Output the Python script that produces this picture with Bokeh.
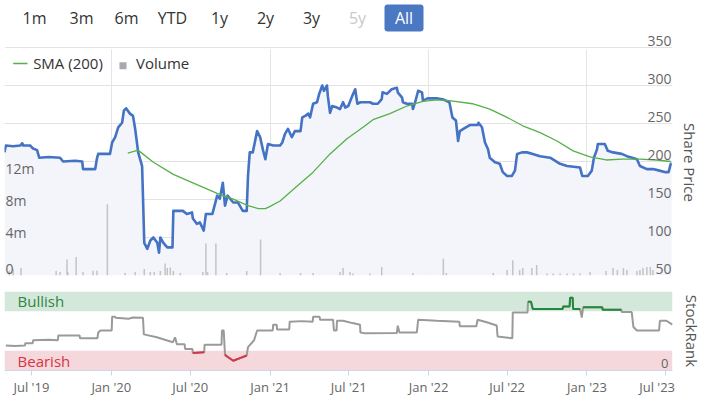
import numpy as np
import pandas as pd
from bokeh.plotting import figure
from bokeh.layouts import column
from bokeh.models import Range1d, LinearAxis, FixedTicker, Grid, BoxAnnotation, Label
from bokeh.core.properties import value
from bokeh.embed import file_html
from bokeh.resources import INLINE

FONT = "Open Sans"
TICK_COLOR = "#666666"

# ---------------- data ----------------
range_buttons = ["1m", "3m", "6m", "YTD", "1y", "2y", "3y", "5y", "All"]
active_button = "All"
disabled_button = "5y"

x_start = "2019-04-30"
x_end = "2023-07-17"

price_dates = [
    "2019-04-30", "2019-05-03", "2019-05-20", "2019-06-05", "2019-06-10", "2019-06-12", "2019-06-28",
    "2019-07-05", "2019-07-14", "2019-07-19", "2019-08-10", "2019-09-05", "2019-09-12", "2019-10-10",
    "2019-10-26", "2019-10-28", "2019-11-25", "2019-11-29", "2019-12-02", "2019-12-29", "2020-01-03",
    "2020-01-10", "2020-01-17", "2020-01-26", "2020-01-30", "2020-02-04", "2020-02-13", "2020-02-20",
    "2020-02-25", "2020-03-03", "2020-03-12", "2020-03-14", "2020-03-17", "2020-03-24", "2020-03-31",
    "2020-04-07", "2020-04-16", "2020-04-20", "2020-04-23", "2020-04-30", "2020-05-09", "2020-05-21",
    "2020-05-23", "2020-06-14", "2020-06-23", "2020-07-05", "2020-07-07", "2020-07-16", "2020-07-23",
    "2020-08-01", "2020-08-06", "2020-08-21", "2020-09-01", "2020-09-07", "2020-09-14", "2020-09-19",
    "2020-09-25", "2020-10-08", "2020-10-19", "2020-10-30", "2020-11-08", "2020-11-11", "2020-11-15",
    "2020-11-22", "2020-12-02", "2020-12-09", "2020-12-16", "2020-12-21", "2020-12-27", "2021-01-08",
    "2021-01-24", "2021-01-29", "2021-02-04", "2021-02-11", "2021-02-20", "2021-02-27", "2021-03-12",
    "2021-03-16", "2021-03-23", "2021-03-30", "2021-04-03", "2021-04-10", "2021-04-19", "2021-04-24",
    "2021-05-01", "2021-05-05", "2021-05-12", "2021-05-14", "2021-05-19", "2021-05-24", "2021-06-04",
    "2021-06-11", "2021-06-18", "2021-06-23", "2021-06-30", "2021-07-09", "2021-07-16", "2021-07-21",
    "2021-07-28", "2021-08-19", "2021-08-26", "2021-09-06", "2021-09-15", "2021-09-17", "2021-09-27",
    "2021-10-08", "2021-10-20", "2021-10-22", "2021-11-01", "2021-11-03", "2021-11-12", "2021-11-24",
    "2021-11-26", "2021-12-01", "2021-12-08", "2021-12-17", "2021-12-19", "2021-12-30", "2022-01-22",
    "2022-02-02", "2022-02-18", "2022-02-25", "2022-03-05", "2022-03-10", "2022-03-14", "2022-03-25",
    "2022-04-06", "2022-04-24", "2022-04-26", "2022-05-04", "2022-05-11", "2022-05-18", "2022-05-22",
    "2022-06-03", "2022-06-14", "2022-06-21", "2022-07-01", "2022-07-12", "2022-07-19", "2022-07-24",
    "2022-08-04", "2022-08-16", "2022-08-29", "2022-09-15", "2022-10-08", "2022-10-31", "2022-11-16",
    "2022-12-16", "2022-12-21", "2023-01-03", "2023-01-12", "2023-01-17", "2023-01-24", "2023-01-26",
    "2023-02-11", "2023-02-18", "2023-03-02", "2023-03-22", "2023-04-03", "2023-04-15", "2023-04-26",
    "2023-05-03", "2023-05-19", "2023-06-02", "2023-06-17", "2023-07-01", "2023-07-08", "2023-07-13",
    "2023-07-15",
]
price_values = [
    212, 221, 220, 221, 224, 221, 221,
    217, 215, 205, 206, 205, 200, 201,
    200, 190, 190, 204, 210, 210, 225,
    232, 245, 251, 267, 270, 263, 260,
    243, 212, 194, 155, 93, 85, 96,
    100, 93, 80, 100, 93, 87, 87,
    135, 135, 131, 133, 125, 118, 120,
    109, 131, 131, 155, 151, 172, 142,
    155, 146, 146, 135, 135, 181, 212,
    212, 240, 232, 214, 203, 223, 221,
    221, 225, 236, 243, 232, 240, 240,
    258, 260, 263, 258, 276, 278, 289,
    300, 293, 300, 286, 264, 273, 271,
    269, 278, 271, 273, 286, 295, 276,
    278, 278, 276, 276, 282, 291, 289,
    295, 297, 291, 284, 278, 276, 276,
    269, 278, 293, 291, 280, 283, 283,
    282, 278, 258, 254, 227, 240, 244,
    248, 248, 251, 245, 225, 216, 205,
    199, 197, 186, 181, 181, 188, 210,
    212, 212, 210, 207, 205, 197, 194,
    192, 181, 181, 188, 205, 216, 223,
    223, 214, 212, 210, 207, 205, 203,
    194, 190, 190, 188, 186, 186, 197,
    197,
]

sma_dates = [
    "2020-02-08", "2020-03-03", "2020-03-07", "2020-04-07", "2020-05-23", "2020-07-07", "2020-09-01",
    "2020-10-08", "2020-11-11", "2020-12-05", "2020-12-21", "2021-01-01", "2021-01-24", "2021-03-05",
    "2021-04-10", "2021-05-19", "2021-06-27", "2021-08-03", "2021-08-26", "2021-10-04", "2021-11-12",
    "2021-12-19", "2022-01-20", "2022-02-18", "2022-04-12", "2022-05-22", "2022-07-01", "2022-08-06",
    "2022-09-15", "2022-10-24", "2022-11-30", "2023-01-08", "2023-02-14", "2023-03-23", "2023-05-03",
    "2023-06-10", "2023-07-13",
]
sma_values = [
    211, 215, 213, 199, 183, 172, 158,
    150.5, 142, 138, 138, 141, 148, 168,
    186, 210, 230, 245, 255, 263, 273,
    279, 281, 280, 276, 269, 258, 247,
    238, 227, 214, 206, 202, 203, 203,
    202, 200,
]

volume_dates = [
    "2019-05-11", "2019-05-20", "2019-06-07", "2019-08-27", "2019-09-05", "2019-09-21", "2019-09-23",
    "2019-10-12", "2019-10-28", "2019-11-20", "2019-11-29", "2019-12-23", "2020-02-02", "2020-02-25",
    "2020-03-17", "2020-03-31", "2020-04-09", "2020-04-23", "2020-05-04", "2020-05-09", "2020-05-16",
    "2020-05-23", "2020-06-08", "2020-07-30", "2020-08-06", "2020-08-10", "2020-08-29", "2020-09-23",
    "2020-11-08", "2020-12-10", "2021-01-24", "2021-03-12", "2021-04-10", "2021-06-11", "2021-06-18",
    "2021-07-04", "2021-07-11", "2021-08-19", "2021-09-15", "2021-11-26", "2022-02-04", "2022-02-11",
    "2022-05-30", "2022-07-01", "2022-07-14", "2022-07-30", "2022-08-06", "2022-08-27", "2022-09-07",
    "2022-10-01", "2022-10-15", "2022-10-31", "2022-11-16", "2022-12-01", "2022-12-16", "2023-01-08",
    "2023-02-14", "2023-03-02", "2023-03-12", "2023-03-26", "2023-04-03", "2023-04-26", "2023-05-03",
    "2023-05-10", "2023-05-19", "2023-05-27", "2023-06-02",
]
volume_millions = [
    0.6, 0.8, 0.95, 0.55, 0.45, 2.0, 0.45,
    2.3, 0.45, 0.6, 0.6, 8.9, 0.3, 0.45,
    0.8, 0.45, 0.45, 0.55, 1.5, 0.95, 1.0,
    0.55, 0.3, 0.45, 4.0, 0.45, 4.0, 0.3,
    0.55, 4.5, 0.3, 0.3, 0.3, 0.45, 0.95,
    0.45, 0.25, 0.25, 1.05, 0.3, 2.1, 0.3,
    0.3, 0.7, 1.9, 0.7, 0.95, 0.95, 1.3,
    0.25, 0.25, 0.25, 0.25, 0.25, 0.25, 0.45,
    0.55, 0.95, 0.7, 0.95, 0.7, 0.55, 0.7,
    0.95, 1.05, 1.05, 0.7,
]

rank_dates = [
    "2019-05-03", "2019-05-25", "2019-06-16", "2019-06-17", "2019-07-04", "2019-07-05", "2019-08-10",
    "2019-08-31", "2019-09-01", "2019-10-20", "2019-10-21", "2019-11-30", "2019-12-02", "2019-12-07",
    "2020-01-02", "2020-01-03", "2020-01-10", "2020-01-11", "2020-02-10", "2020-02-20", "2020-03-14",
    "2020-03-16", "2020-04-15", "2020-05-22", "2020-05-27", "2020-05-31", "2020-06-18", "2020-06-19",
    "2020-07-06", "2020-07-07", "2020-08-02", "2020-08-03", "2020-09-11", "2020-09-12", "2020-09-16",
    "2020-09-19", "2020-09-23", "2020-10-08", "2020-10-25", "2020-11-08", "2020-11-11", "2020-11-25",
    "2020-12-02", "2021-01-07", "2021-01-08", "2021-01-16", "2021-01-17", "2021-02-14", "2021-02-15",
    "2021-03-15", "2021-04-09", "2021-04-10", "2021-04-25", "2021-04-26", "2021-05-26", "2021-05-28",
    "2021-06-03", "2021-06-04", "2021-06-18", "2021-07-10", "2021-07-27", "2021-07-28", "2021-08-08",
    "2021-10-20", "2021-10-22", "2021-10-26", "2021-12-05", "2021-12-08", "2022-01-20", "2022-03-13",
    "2022-03-14", "2022-04-21", "2022-04-24", "2022-05-15", "2022-06-07", "2022-06-09", "2022-07-13",
    "2022-07-14", "2022-08-17", "2022-08-18", "2022-08-25", "2022-08-29", "2022-11-06", "2022-11-07",
    "2022-11-22", "2022-11-23", "2022-11-29", "2022-11-30", "2022-12-16", "2022-12-20", "2022-12-23",
    "2023-02-05", "2023-02-06", "2023-03-21", "2023-03-22", "2023-04-14", "2023-04-18", "2023-04-26",
    "2023-06-16", "2023-06-18", "2023-07-03", "2023-07-17",
]
rank_values = [
    31.5, 31, 31.5, 34.6, 34.6, 38.3, 39,
    38.3, 44.4, 44.4, 40.7, 40.7, 48.1, 50.6,
    50.6, 67.9, 67.9, 66.7, 65.5, 67, 66.7,
    45.7, 42, 35.8, 42, 33.3, 33.3, 27.2,
    27.2, 22, 23, 32.5, 32.5, 50.6, 50.6,
    20, 18, 12.3, 16, 19, 29.6, 38.3,
    50.6, 50.6, 58, 58, 51.9, 51.9, 61.7,
    62.5, 61.7, 67.9, 67.9, 64.2, 64.2, 50.6,
    50.6, 63, 63, 60, 58, 48.1, 47,
    47.5, 56.8, 48.1, 48.1, 64.2, 63, 61.7,
    56, 56, 64.2, 61, 57, 43, 40.7,
    73.5, 73.5, 87, 87, 78, 78, 81,
    81, 92, 92, 78, 78, 67, 80,
    80, 77, 77, 74, 74, 55, 50.6,
    50.6, 63, 63, 58,
]
bullish_level = 75
bearish_level = 25

price_ticks = [50, 100, 150, 200, 250, 300, 350]
volume_ticks_m = [0, 4, 8, 12]
volume_tick_labels = ["0", "4m", "8m", "12m"]
x_tick_dates = ["2019-07-01", "2020-01-01", "2020-07-01", "2021-01-01", "2021-07-01",
                "2022-01-01", "2022-07-01", "2023-01-01", "2023-07-01"]
x_tick_labels = ["Jul '19", "Jan '20", "Jul '20", "Jan '21", "Jul '21",
                 "Jan '22", "Jul '22", "Jan '23", "Jul '23"]

# ---------------- helpers ----------------
def dt(lst):
    return pd.to_datetime(lst).values

def ms(lst):
    return [float(v) for v in (pd.to_datetime(lst).astype("int64") // 10**6)]

W = 707
LEFT, RIGHT = 4, 35              # frame borders shared by all three rows
BTN_H = 49                       # height of the range-selector row
MAIN_FRAME_H = 226
xs = pd.Timestamp(x_start)
xe = pd.Timestamp(x_end)
x_range = Range1d(start=xs, end=xe)
PX_PER_UNIT = 0.76               # price-axis scale (pixels per currency unit)
P_MIN = 50
P_MAX = P_MIN + MAIN_FRAME_H / PX_PER_UNIT
PX_PER_MILLION = 8.0             # volume-axis scale

# ---------------- range selector row (page-pixel coordinates) ----------------
btn = figure(width=W, height=BTN_H, x_range=Range1d(LEFT, W - RIGHT), y_range=Range1d(BTN_H, 0),
             x_axis_location=None, y_axis_location=None, output_backend="svg",
             toolbar_location=None, min_border_left=LEFT, min_border_right=RIGHT,
             min_border_top=0, min_border_bottom=0)
btn.outline_line_color = None
btn.grid.visible = False
btn_x = [34, 81, 126, 172, 219, 265, 311, 357, 403.5]
btn.add_layout(BoxAnnotation(left=384, right=423, top=4, bottom=31, fill_color="#4a78c2",
                             fill_alpha=1, line_color=None, border_radius=3, level="underlay"))
btn_colors = ["#ffffff" if b == active_button else ("#c8c8c8" if b == disabled_button else "#333333")
              for b in range_buttons]
btn.text(x=btn_x, y=[17.5] * len(range_buttons), text=range_buttons, text_align="center",
         text_baseline="middle", text_color=btn_colors, text_font=value(FONT),
         text_font_size="16px")
# the top gridline (350) and its label sit just above the price frame, so they are drawn here
top_grid_y = BTN_H - (price_ticks[-1] - P_MAX) * PX_PER_UNIT
btn.segment(x0=[LEFT], x1=[W - RIGHT], y0=[top_grid_y], y1=[top_grid_y], line_color="#e3e3e3",
            line_width=1)
btn.text(x=[W - RIGHT - 1], y=[top_grid_y - 2], text=[str(price_ticks[-1])], text_align="right",
         text_baseline="bottom", text_color=TICK_COLOR, text_font=value(FONT),
         text_font_size="14px")

# ---------------- main price panel ----------------
main = figure(width=W, height=MAIN_FRAME_H + 16, x_range=x_range, y_range=Range1d(P_MIN, P_MAX),
              x_axis_type="datetime", x_axis_location=None, y_axis_location=None,
              output_backend="svg", toolbar_location=None,
              min_border_left=LEFT, min_border_right=RIGHT, min_border_top=0, min_border_bottom=16)
main.outline_line_color = None
main.extra_y_ranges = {"vol": Range1d(0, MAIN_FRAME_H / PX_PER_MILLION * 1e6)}

main.varea(x=dt(price_dates), y1=P_MIN, y2=price_values, fill_color="#f3f5fa")
main.add_layout(Grid(dimension=1, ticker=FixedTicker(ticks=price_ticks[:-1]),
                     grid_line_color="#e3e3e3"))

main.vbar(x=dt(volume_dates), top=[v * 1e6 for v in volume_millions], width=3.5 * 86400000,
          y_range_name="vol", fill_color="#c4c4c4", line_color=None)
main.line(dt(price_dates), price_values, line_color="#4472c4", line_width=2.6, line_join="round")
main.line(dt(sma_dates), sma_values, line_color="#56b04a", line_width=1.3)

ax = LinearAxis(ticker=FixedTicker(ticks=[]), axis_label="Share Price", axis_line_color=None,
                major_tick_line_color=None, minor_tick_line_color=None,
                major_label_text_font_size="0px", axis_label_standoff=7,
                axis_label_text_font=FONT, axis_label_text_font_size="15px",
                axis_label_text_font_style="normal", axis_label_text_color="#555555")
main.add_layout(ax, "right")

for t in price_ticks[:-1]:
    main.add_layout(Label(x=xe, y=t, text=str(t), text_align="right", text_baseline="bottom",
                          x_offset=-1, y_offset=2, text_font=FONT, text_font_size="14px",
                          text_color=TICK_COLOR))
for t, lab in zip(volume_ticks_m, volume_tick_labels):
    main.add_layout(Label(x=xs, y=t * 1e6, y_range_name="vol", text=lab, text_align="left",
                          text_baseline="bottom", x_offset=1, y_offset=2, text_font=FONT,
                          text_font_size="14px", text_color=TICK_COLOR))

# legend (drawn by hand)
main.line(x=dt(["2019-05-20", "2019-06-22"]), y=[329, 329], line_color="#56b04a", line_width=1.5)
main.add_layout(Label(x=pd.Timestamp("2019-07-05"), y=329, text="SMA (200)", text_baseline="middle",
                      text_font=FONT, text_font_size="15px", text_color="#333333"))
main.scatter(x=dt(["2020-01-28"]), y=[326], marker="square", size=7, fill_color="#a9a9b0",
             line_color=None)
main.add_layout(Label(x=pd.Timestamp("2020-02-27"), y=329, text="Volume", text_baseline="middle",
                      text_font=FONT, text_font_size="15px", text_color="#333333"))

# ---------------- StockRank panel ----------------
rank = figure(width=W, height=107, x_range=x_range, y_range=Range1d(0, 100),
              x_axis_type="datetime", y_axis_location=None, output_backend="svg",
              toolbar_location=None, min_border_left=LEFT, min_border_right=RIGHT,
              min_border_top=0, min_border_bottom=26)
rank.outline_line_color = None
rank.grid.visible = False
rank.add_layout(BoxAnnotation(bottom=bullish_level, top=100, fill_color="#d3e8db", fill_alpha=1,
                              line_color=None, level="underlay"))
rank.add_layout(BoxAnnotation(bottom=0, top=bearish_level, fill_color="#f5d8db", fill_alpha=1,
                              line_color=None, level="underlay"))

rv = np.array(rank_values, dtype=float)
rd = dt(rank_dates)
rank.line(rd, rv, line_color="#9a9a9a", line_width=2)
rank.line(rd, np.where(rv >= bullish_level, rv, np.nan), line_color="#22883a", line_width=2)
rank.line(rd, np.where(rv <= bearish_level, rv, np.nan), line_color="#d63447", line_width=2)

rank.add_layout(Label(x=pd.Timestamp("2019-05-30"), y=87.5, text="Bullish", text_baseline="middle",
                      text_font=FONT, text_font_size="15px", text_color="#2e8540"))
rank.add_layout(Label(x=pd.Timestamp("2019-05-30"), y=12.5, text="Bearish", text_baseline="middle",
                      text_font=FONT, text_font_size="15px", text_color="#d63447"))
rank.add_layout(Label(x=xe, y=0, text="0", text_align="right", text_baseline="bottom",
                      x_offset=-4, y_offset=3, text_font=FONT, text_font_size="13px",
                      text_color=TICK_COLOR))

xt = ms(x_tick_dates)
shown_labels = list(x_tick_labels)
shown_labels[-1] = shown_labels[-1] + "\u00a0" * 5   # last label kept inside the chart edge
rank.xaxis.ticker = FixedTicker(ticks=xt)
rank.xaxis.major_label_overrides = {k: v for k, v in zip(xt, shown_labels)}
rank.xaxis.axis_line_color = "#ccd6eb"
rank.xaxis.major_tick_line_color = "#ccd6eb"
rank.xaxis.minor_tick_line_color = None
rank.xaxis.major_tick_out = 5
rank.xaxis.major_tick_in = 0
rank.xaxis.major_label_standoff = 2
rank.xaxis.major_label_text_font = FONT
rank.xaxis.major_label_text_font_size = "13px"
rank.xaxis.major_label_text_color = TICK_COLOR

ax2 = LinearAxis(ticker=FixedTicker(ticks=[]), axis_label="StockRank", axis_line_color=None,
                 major_tick_line_color=None, minor_tick_line_color=None,
                 major_label_text_font_size="0px", axis_label_standoff=9,
                 axis_label_text_font=FONT, axis_label_text_font_size="15px",
                 axis_label_text_font_style="normal", axis_label_text_color="#555555")
rank.add_layout(ax2, "right")

layout = column(btn, main, rank, spacing=0)
open("out.html", "w").write(file_html(layout, INLINE, title="Share price chart"))
